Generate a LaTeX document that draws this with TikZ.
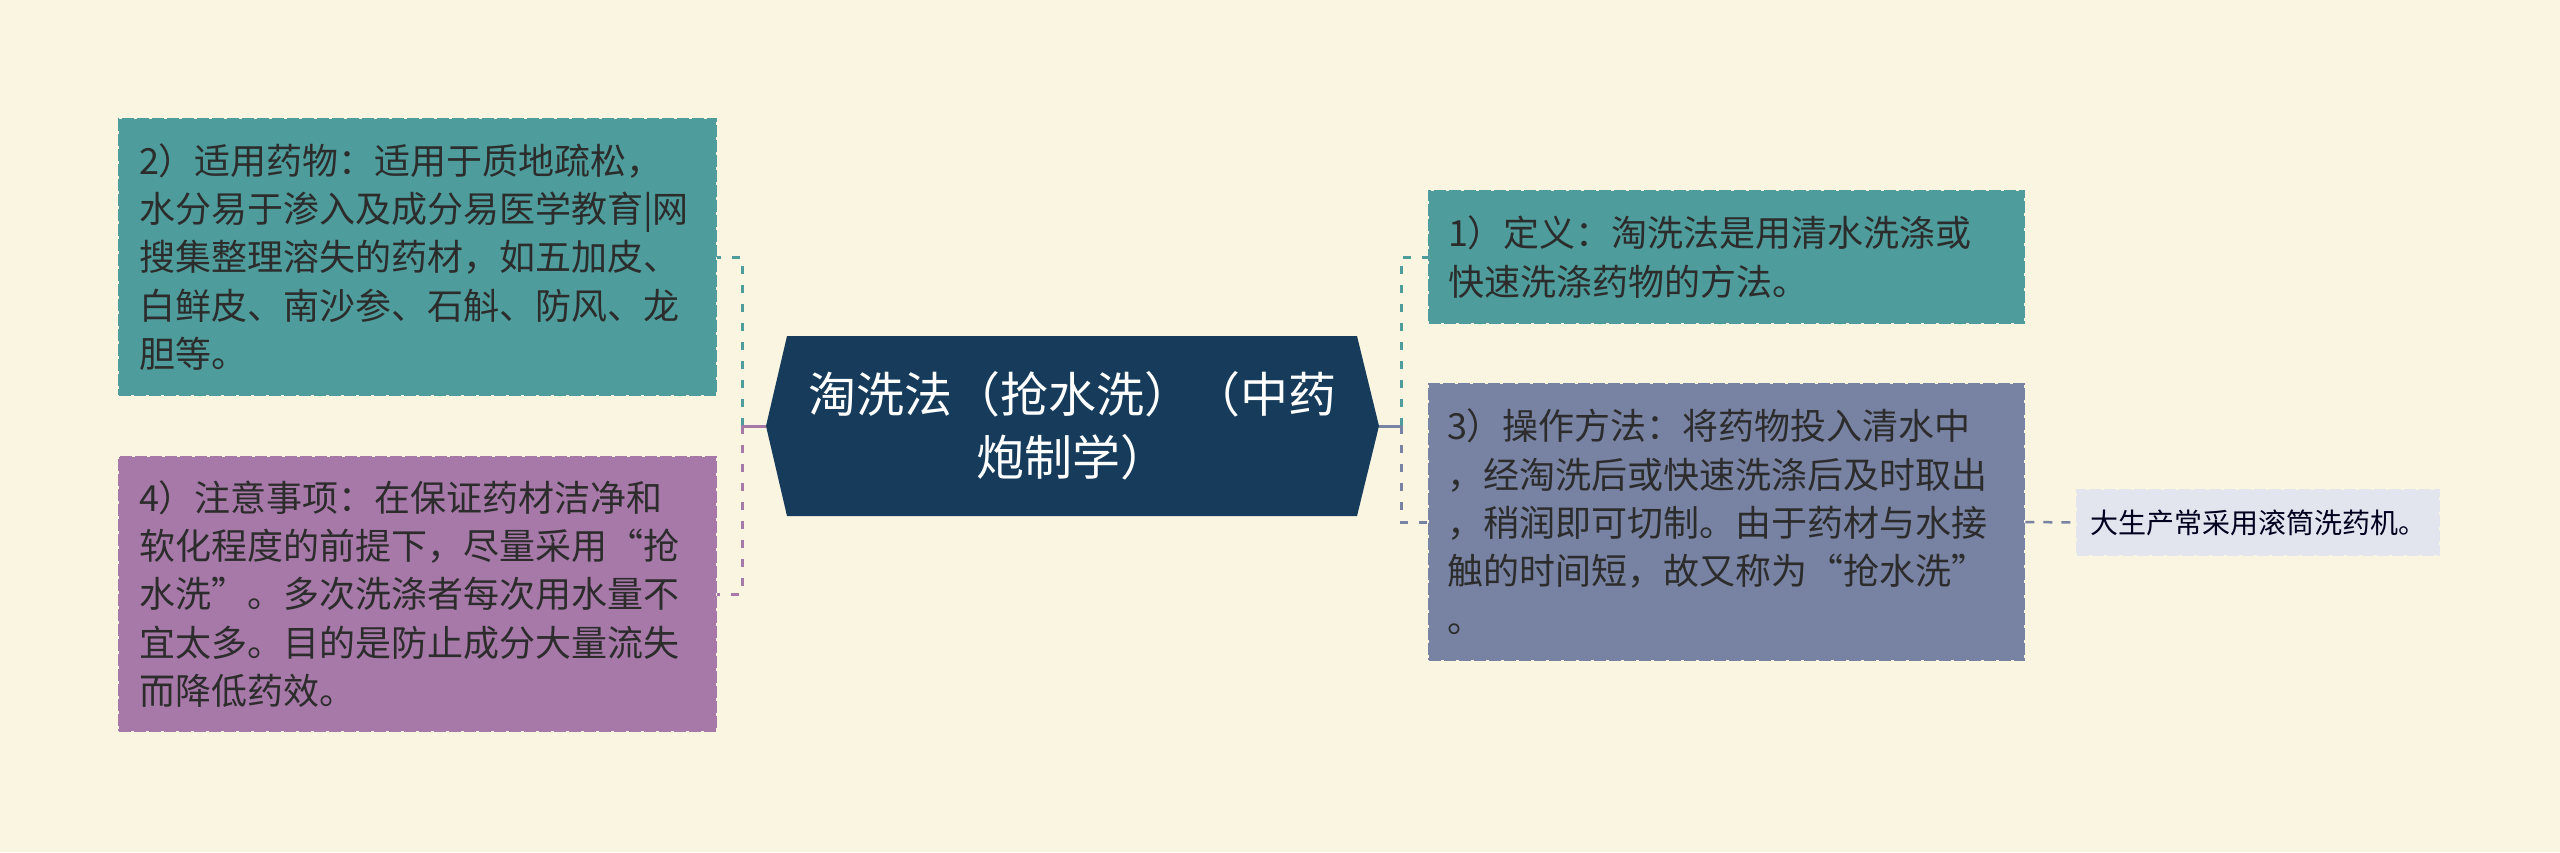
\documentclass[tikz,border=0pt]{standalone}
\usepackage{fontspec}
\newfontfamily\cjk{Noto Sans CJK SC}
\definecolor{bgc}{HTML}{FAF5E0}
\definecolor{tealc}{HTML}{4E9C9B}
\definecolor{purpc}{HTML}{A779A9}
\definecolor{slatec}{HTML}{7883A3}
\definecolor{smallc}{HTML}{E2E5EE}
\definecolor{hexc}{HTML}{173C5B}
\definecolor{txtc}{HTML}{2C2C2C}
\begin{document}
\begin{tikzpicture}[x=1pt,y=-1pt,
  leaf/.style={rectangle, fill=#1, draw=#1, dash pattern=on 12pt off 3pt, line width=2.5pt,
    inner xsep=20pt, inner ysep=0pt, align=left, anchor=center,
    font=\cjk\fontsize{36}{48.3}\selectfont, text=txtc},
  conn/.style={draw=#1, line width=3pt, dash pattern=on 8pt off 11pt},
  stubline/.style={draw=#1, line width=3pt},
]
\useasboundingbox[fill=bgc] (0,0) rectangle (2560,852);

% nodes
\node[leaf=tealc, minimum width=597pt, minimum height=276pt, text width=557pt] (b2) at (417.5,257)
 {2）适用药物：适用于质地疏松，\\水分易于渗入及成分易医学教育|网\\搜集整理溶失的药材，如五加皮、\\白鲜皮、南沙参、石斛、防风、龙\\胆等。};
\node[leaf=purpc, minimum width=597pt, minimum height=274pt, text width=557pt] (b4) at (417.5,594)
 {4）注意事项：在保证药材洁净和\\软化程度的前提下，尽量采用“抢\\水洗”。多次洗涤者每次用水量不\\宜太多。目的是防止成分大量流失\\而降低药效。};
\node[leaf=tealc, minimum width=595pt, minimum height=132pt, text width=557pt, inner xsep=18pt] (b1) at (1726.5,257)
 {1）定义：淘洗法是用清水洗涤或\\快速洗涤药物的方法。};
\node[leaf=slatec, minimum width=595pt, minimum height=276pt, text width=559pt, inner xsep=18pt] (b3) at (1726.5,522)
 {3）操作方法：将药物投入清水中\\，经淘洗后或快速洗涤后及时取出\\，稍润即可切制。由于药材与水接\\触的时间短，故又称为“抢水洗”\\。};
\node[leaf=smallc, minimum width=362pt, minimum height=65pt, inner xsep=8pt, align=center,
  font=\cjk\fontsize{28}{32}\selectfont, text=black!88!blue] (sm) at (2258,522.5)
 {大生产常采用滚筒洗药机。};

% central topic
\coordinate (hl) at (766,426);
\coordinate (hr) at (1379,426);
\coordinate (jl) at (742,426);
\coordinate (jr) at (1401,426);
\fill[hexc] (hl) -- (787,336) -- (1357,336) -- (hr) -- (1357,516) -- (787,516) -- cycle;
\node[font=\cjk\fontsize{48}{63}\selectfont, text=white, align=center] (root) at (1072.5,426)
 {淘洗法（抢水洗）（中药\\炮制学）};

% connectors
\draw[conn=tealc] (jl) |- (b2.east);
\draw[conn=purpc] (jl) |- (b4.east);
\draw[stubline=purpc] (hl) -- (jl);
\draw[conn=tealc] (jr) |- (b1.west);
\draw[conn=slatec] (jr) |- (b3.west);
\draw[stubline=slatec] (hr) -- (jr);
\draw[conn=slatec, line width=2.5pt, dash pattern=on 9pt off 9pt] (b3.east) -- (sm.west);
\end{tikzpicture}
\end{document}
